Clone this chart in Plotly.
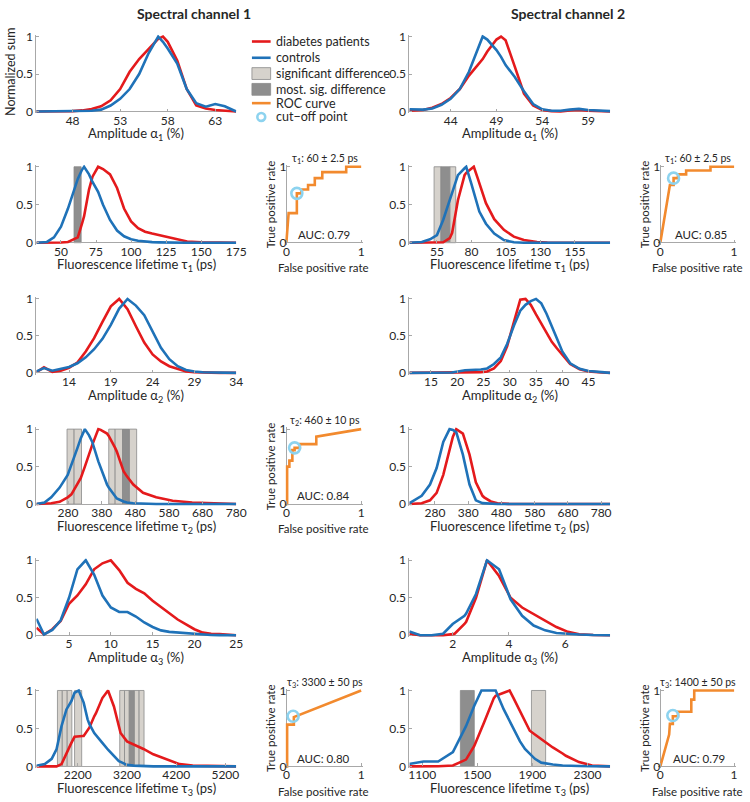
import plotly.graph_objects as go

# ---------------- data ----------------
# Row 1: amplitude alpha1
a1_ch1_x = [44, 46, 48, 49, 50, 51, 52, 53, 54, 55, 56, 57, 57.5, 58, 59, 60, 61, 62, 63, 64, 65.2]
a1_ch1_diab = [0, 0, 0.005, 0.015, 0.035, 0.07, 0.15, 0.3, 0.53, 0.7, 0.84, 0.97, 1.0, 0.93, 0.68, 0.3, 0.08, 0.04, 0.02, 0.01, 0]
a1_ch1_ctrl = [0, 0, 0, 0.005, 0.01, 0.025, 0.08, 0.17, 0.3, 0.5, 0.78, 1.0, 0.93, 0.84, 0.64, 0.3, 0.11, 0.065, 0.1, 0.07, 0]

a1_ch2_x = [39.5, 41, 42, 43, 44, 45, 46, 47, 47.5, 48, 49, 49.5, 50, 51, 52, 53, 54, 55, 56, 57, 58, 59, 60, 61.4]
a1_ch2_ctrl = [0.03, 0.025, 0.04, 0.09, 0.17, 0.3, 0.53, 0.84, 1.0, 0.96, 0.82, 0.73, 0.62, 0.46, 0.27, 0.1, 0.03, 0.01, 0.01, 0.025, 0.035, 0.02, 0.01, 0.005]
a1_ch2_diab = [0.01, 0.02, 0.05, 0.1, 0.18, 0.3, 0.48, 0.62, 0.7, 0.8, 0.96, 1.0, 0.95, 0.6, 0.24, 0.08, 0.02, 0.005, 0.0, 0.015, 0.02, 0.01, 0.005, 0]

# Row 2: lifetime tau1
t1_ch1_x = [32.5, 40, 45, 50, 55, 60, 62, 65, 66.5, 70, 72.5, 76.5, 80, 85, 90, 95, 100, 105, 110, 115, 120, 130, 140, 150, 175]
t1_ch1_ctrl = [0, 0.01, 0.07, 0.21, 0.45, 0.74, 0.84, 0.96, 1.0, 0.9, 0.8, 0.67, 0.5, 0.3, 0.16, 0.085, 0.045, 0.025, 0.015, 0.008, 0.005, 0, 0, 0, 0]
t1_ch1_diab = [0, 0, 0, 0.003, 0.01, 0.05, 0.07, 0.25, 0.35, 0.7, 0.87, 1.0, 0.97, 0.9, 0.72, 0.45, 0.28, 0.19, 0.145, 0.12, 0.1, 0.05, 0.015, 0.005, 0]
t1_ch1_sig = []
t1_ch1_most = [[59.3, 64.4]]

t1_ch2_x = [35, 44, 50, 55, 59.5, 64.3, 66, 70.2, 75, 76.2, 80, 81.7, 84.5, 85.7, 90.5, 96.5, 103.5, 110.7, 118, 127.5, 135, 180.5]
t1_ch2_ctrl = [0, 0.01, 0.045, 0.1, 0.3, 0.56, 0.65, 0.89, 0.98, 1.0, 0.77, 0.66, 0.47, 0.41, 0.25, 0.12, 0.035, 0.005, 0, 0, 0, 0]
t1_ch2_diab = [0, 0, 0, 0, 0.005, 0.06, 0.13, 0.56, 0.89, 0.92, 0.97, 1.0, 0.85, 0.78, 0.52, 0.31, 0.17, 0.08, 0.035, 0.01, 0.003, 0]
t1_ch2_sig = [[52.9, 57.9], [64.3, 68.6]]
t1_ch2_most = [[57.9, 64.3]]

# Row 3: amplitude alpha2
a2_ch1_x = [10.1, 11, 12, 13, 14, 15, 16, 17, 18, 19, 20, 21, 22, 23, 24, 25, 26, 27, 28, 29, 30, 32, 34]
a2_ch1_ctrl = [0.02, 0.065, 0.03, 0.05, 0.08, 0.13, 0.21, 0.32, 0.46, 0.65, 0.87, 1.0, 0.91, 0.78, 0.56, 0.34, 0.185, 0.09, 0.04, 0.018, 0.008, 0.002, 0]
a2_ch1_diab = [0.01, 0.075, 0.015, 0.03, 0.07, 0.14, 0.29, 0.47, 0.69, 0.9, 1.0, 0.86, 0.63, 0.41, 0.25, 0.155, 0.09, 0.05, 0.02, 0.01, 0.004, 0, 0]

a2_ch2_x = [10.9, 15, 19, 21.5, 24.5, 25.7, 27, 28.3, 29.5, 30.8, 31.5, 32, 33, 34, 35, 36, 37, 38, 39, 40, 41.5, 43.3, 45, 47.5, 49.1]
a2_ch2_ctrl = [0, 0, 0.005, 0.035, 0.045, 0.06, 0.12, 0.21, 0.39, 0.64, 0.75, 0.84, 0.92, 0.97, 1.0, 0.94, 0.8, 0.62, 0.46, 0.29, 0.13, 0.055, 0.025, 0.01, 0]
a2_ch2_diab = [0, 0, 0, 0.002, 0.01, 0.02, 0.06, 0.16, 0.36, 0.69, 0.88, 0.99, 1.0, 0.92, 0.79, 0.67, 0.55, 0.42, 0.33, 0.24, 0.12, 0.05, 0.02, 0.005, 0]

# Row 4: lifetime tau2
t2_ch1_x = [186, 210, 230, 255, 279, 290, 308, 318, 330, 342, 352, 370, 377, 396, 401, 420, 425, 445, 455, 474, 503, 542, 591, 649, 718, 780]
t2_ch1_ctrl = [0, 0.02, 0.09, 0.22, 0.39, 0.52, 0.75, 0.88, 1.0, 0.92, 0.83, 0.57, 0.48, 0.26, 0.22, 0.1, 0.075, 0.035, 0.02, 0.01, 0.004, 0, 0, 0, 0, 0]
t2_ch1_diab = [0, 0.003, 0.01, 0.03, 0.09, 0.13, 0.27, 0.35, 0.5, 0.66, 0.79, 1.0, 0.99, 0.94, 0.91, 0.75, 0.7, 0.44, 0.37, 0.26, 0.15, 0.09, 0.045, 0.02, 0.005, 0]
t2_ch1_sig = [[277, 298], [298, 320], [401, 420], [420, 442], [462, 484]]
t2_ch1_most = [[442, 462]]

t2_ch2_x = [203, 206, 240, 265, 285, 305, 324, 334, 344, 364, 384, 403, 423, 428, 448, 468, 500, 807]
t2_ch2_ctrl = [0.015, 0.02, 0.11, 0.26, 0.48, 0.83, 1.0, 0.99, 0.96, 0.66, 0.26, 0.05, 0.012, 0.01, 0.003, 0, 0, 0]
t2_ch2_diab = [0, 0, 0.01, 0.05, 0.15, 0.39, 0.75, 0.9, 1.0, 0.94, 0.66, 0.29, 0.11, 0.09, 0.035, 0.01, 0.002, 0]

# Row 5: amplitude alpha3
a3_ch1_x = [1.1, 2, 3, 4, 5, 6, 7, 8, 9, 10, 11, 12, 13, 14, 15, 16, 17, 18, 19, 20, 21, 22, 23, 24, 25]
a3_ch1_ctrl = [0.22, 0.01, 0.07, 0.2, 0.5, 0.88, 1.0, 0.81, 0.53, 0.37, 0.31, 0.31, 0.25, 0.17, 0.11, 0.065, 0.045, 0.037, 0.025, 0.012, 0.005, 0.003, 0.002, 0.001, 0]
a3_ch1_diab = [0.1, 0.01, 0.08, 0.19, 0.42, 0.53, 0.68, 0.88, 0.96, 1.0, 0.87, 0.7, 0.62, 0.56, 0.46, 0.38, 0.3, 0.21, 0.145, 0.08, 0.035, 0.018, 0.015, 0.012, 0]

a3_ch2_x = [0.46, 0.84, 1.25, 1.66, 2.0, 2.07, 2.42, 2.48, 2.83, 3.22, 3.65, 4.06, 4.47, 4.88, 5.29, 5.69, 6.1, 6.5, 7.0, 7.6]
a3_ch2_ctrl = [0.05, 0.0, 0.0, 0.02, 0.15, 0.17, 0.26, 0.29, 0.55, 1.0, 0.88, 0.48, 0.26, 0.13, 0.065, 0.03, 0.018, 0.01, 0.003, 0]
a3_ch2_diab = [0.02, 0.0, 0.0, 0.0, 0.015, 0.02, 0.15, 0.18, 0.5, 1.0, 0.79, 0.5, 0.37, 0.285, 0.2, 0.11, 0.045, 0.013, 0.003, 0]

# Row 6: lifetime tau3
t3_ch1_x = [1360, 1530, 1670, 1770, 1870, 1970, 2070, 2135, 2220, 2300, 2320, 2400, 2435, 2535, 2570,
            2700, 2815, 2935, 3035, 3070, 3200, 3335, 3470, 3535, 3735, 4000, 4270, 4535, 5420]
t3_ch1_ctrl = [0.01, 0.03, 0.1, 0.23, 0.53, 0.75, 0.86, 0.97, 1.0, 0.88, 0.84, 0.62, 0.56, 0.44, 0.41,
               0.31, 0.22, 0.13, 0.07, 0.06, 0.02, 0.01, 0.005, 0.003, 0, 0, 0, 0, 0]
t3_ch1_diab = [0, 0, 0, 0, 0.03, 0.18, 0.31, 0.39, 0.4, 0.4, 0.4, 0.48, 0.51, 0.66, 0.7,
               0.9, 1.0, 0.79, 0.5, 0.44, 0.33, 0.29, 0.25, 0.23, 0.16, 0.1, 0.03, 0.01, 0]
t3_ch1_sig = [[1787, 1885], [1885, 1985], [1985, 2080], [2135, 2280],
              [3053, 3150], [3150, 3247], [3347, 3447], [3447, 3547]]
t3_ch1_most = [[3247, 3347]]

t3_ch2_x = [1007, 1015, 1110, 1216, 1323, 1418, 1478, 1530, 1549, 1620, 1633, 1692, 1734, 1763, 1810,
            1846, 1881, 1918, 1964, 2000, 2048, 2119, 2143, 2238, 2333, 2464]
t3_ch2_ctrl = [0.035, 0.035, 0.065, 0.065, 0.19, 0.53, 0.8, 1.0, 1.0, 1.0, 1.0, 0.75, 0.6, 0.49, 0.33,
               0.23, 0.16, 0.1, 0.05, 0.035, 0.025, 0.013, 0.01, 0.005, 0.002, 0]
t3_ch2_diab = [0, 0, 0, 0.003, 0.013, 0.09, 0.27, 0.48, 0.58, 0.9, 0.93, 0.97, 1.0, 0.9, 0.73,
               0.6, 0.47, 0.42, 0.36, 0.31, 0.25, 0.17, 0.14, 0.057, 0.013, 0]
t3_ch2_sig = [[1893, 1996]]
t3_ch2_most = [[1377, 1478]]

# ROC curves
roc_t1_ch1_fpr = [0, 0.03, 0.14, 0.14, 0.2, 0.2, 0.29, 0.29, 0.38, 0.38, 0.48, 0.48, 0.8, 0.8, 1]
roc_t1_ch1_tpr = [0, 0.39, 0.39, 0.65, 0.65, 0.7, 0.7, 0.76, 0.76, 0.85, 0.85, 0.93, 0.93, 1, 1]
roc_t1_ch1_cut = [0.14, 0.65]

roc_t1_ch2_fpr = [0, 0.13, 0.18, 0.18, 0.24, 0.24, 0.35, 0.35, 0.68, 0.68, 1]
roc_t1_ch2_tpr = [0, 0.76, 0.76, 0.85, 0.85, 0.9, 0.9, 0.95, 0.95, 1, 1]
roc_t1_ch2_cut = [0.18, 0.85]

roc_t2_ch1_fpr = [0, 0.01, 0.01, 0.04, 0.04, 0.08, 0.08, 0.11, 0.11, 0.18, 0.18, 0.4, 0.4, 1]
roc_t2_ch1_tpr = [0, 0, 0.5, 0.5, 0.58, 0.58, 0.72, 0.72, 0.75, 0.75, 0.8, 0.8, 0.9, 1]
roc_t2_ch1_cut = [0.11, 0.75]

roc_t3_ch1_fpr = [0, 0.01, 0.01, 0.1, 0.1, 1]
roc_t3_ch1_tpr = [0, 0, 0.55, 0.55, 0.65, 1]
roc_t3_ch1_cut = [0.09, 0.66]

roc_t3_ch2_fpr = [0, 0.12, 0.13, 0.17, 0.17, 0.24, 0.24, 0.42, 0.42, 0.46, 0.46, 1]
roc_t3_ch2_tpr = [0, 0.42, 0.56, 0.56, 0.66, 0.66, 0.72, 0.72, 0.88, 0.88, 1, 1]
roc_t3_ch2_cut = [0.17, 0.67]

auc_values = ["0.79", "0.85", "0.84", "0.80", "0.79"]
roc_titles = ["τ<sub>1</sub>: 60 ± 2.5 ps", "τ<sub>1</sub>: 60 ± 2.5 ps", "τ<sub>2</sub>: 460 ± 10 ps",
              "τ<sub>3</sub>: 3300 ± 50 ps", "τ<sub>3</sub>: 1400 ± 50 ps"]

x_titles = ["Amplitude α<sub>1</sub> (%)", "Fluorescence lifetime τ<sub>1</sub> (ps)",
            "Amplitude α<sub>2</sub> (%)", "Fluorescence lifetime τ<sub>2</sub> (ps)",
            "Amplitude α<sub>3</sub> (%)", "Fluorescence lifetime τ<sub>3</sub> (ps)"]
legend_labels = ["diabetes patients", "controls", "significant difference",
                 "most. sig. difference", "ROC curve", "cut\u2212off point"]

# ---------------- styling / layout ----------------
W, H = 750, 802
FONT = "Lato, 'Open Sans', sans-serif"
TXT = "#262626"
RED = "#e41a1c"
BLUE = "#1f72b8"
ORANGE = "#f28a2e"
CYAN = "#8dd3ef"
LIGHT = "#d6d2cc"
DARK = "#8e8e8e"
EDGE = "#8a8a8a"
AX = "#a8a8a8"
LW = 2.6
TICK = 12
PAD = 0.025

ROWS = [(31, 107), (163, 240), (297, 372), (429, 505), (562, 638), (694, 771)]
MAIN_X = [(35, 238), (414, 618)]
ROC_X = [(289, 365), (669, 744)]

fig = go.Figure()
lay = {}
shapes = []
annots = []


def pxx(px):
    return px / W


def pxy(py):
    return 1 - py / H


counter = [0]


def new_axes():
    counter[0] += 1
    i = counter[0]
    s = "" if i == 1 else str(i)
    return "x" + s, "y" + s, "xaxis" + s, "yaxis" + s


def text(x, y, t, size=12, xanchor="center", yanchor="middle", angle=0, bold=False, xref="paper", yref="paper"):
    if bold:
        t = "<b>" + t + "</b>"
    annots.append(dict(x=x, y=y, xref=xref, yref=yref, text=t, showarrow=False,
                       xanchor=xanchor, yanchor=yanchor, textangle=angle,
                       font=dict(size=size, family=FONT, color=TXT)))


def main_panel(row, col, x, ctrl, diab, xrange, xticks, sig=(), most=()):
    xr, yr, xa, ya = new_axes()
    top, bot = ROWS[row]
    h = bot - top
    x0, x1 = MAIN_X[col]
    lay[xa] = dict(domain=[pxx(x0), pxx(x1)], range=xrange, anchor="free", position=pxy(bot),
                   tickvals=xticks, ticks="inside", ticklen=3, tickcolor=AX, showline=False,
                   zeroline=False, showgrid=False, tickfont=dict(size=TICK, color=TXT), fixedrange=True)
    lay[ya] = dict(domain=[pxy(bot + PAD * h), pxy(top - PAD * h)], range=[-PAD, 1 + PAD], anchor=xr,
                   tickvals=[0, 0.5, 1], ticktext=["0", "0.5", "1"], ticks="inside", ticklen=3,
                   tickcolor=AX, showline=True, linecolor=AX, linewidth=1, zeroline=True,
                   zerolinecolor=AX, zerolinewidth=1, showgrid=False,
                   tickfont=dict(size=TICK, color=TXT), fixedrange=True)
    for a, b in sig:
        shapes.append(dict(type="rect", xref=xr, yref=yr, x0=a, x1=b, y0=0, y1=1,
                           fillcolor=LIGHT, line=dict(color=EDGE, width=0.8), layer="below"))
    for a, b in most:
        shapes.append(dict(type="rect", xref=xr, yref=yr, x0=a, x1=b, y0=0, y1=1,
                           fillcolor=DARK, line=dict(color=EDGE, width=0.8), layer="below"))
    fig.add_trace(go.Scatter(x=x, y=diab, xaxis=xr, yaxis=yr, mode="lines",
                             line=dict(color=RED, width=LW), hoverinfo="skip"))
    fig.add_trace(go.Scatter(x=x, y=ctrl, xaxis=xr, yaxis=yr, mode="lines",
                             line=dict(color=BLUE, width=LW), hoverinfo="skip"))
    text(pxx((x0 + x1) / 2), pxy(bot + 23), x_titles[row], size=13)


def roc_panel(row, col, fpr, tpr, cut, k, auc_x=0.5):
    xr, yr, xa, ya = new_axes()
    top, bot = ROWS[row]
    h = bot - top
    x0, x1 = ROC_X[col]
    w = x1 - x0
    common = dict(range=[-PAD, 1 + PAD], tickvals=[0, 1], ticks="inside", ticklen=3, tickcolor=AX,
                  showline=False, zeroline=True, zerolinecolor=AX, zerolinewidth=1, showgrid=False,
                  tickfont=dict(size=TICK, color=TXT), fixedrange=True, anchor="free")
    lay[xa] = dict(domain=[pxx(x0 - PAD * w), pxx(x1 + PAD * w)], position=pxy(bot), **common)
    lay[ya] = dict(domain=[pxy(bot + PAD * h), pxy(top - PAD * h)], position=pxx(x0), **common)
    fig.add_trace(go.Scatter(x=fpr, y=tpr, xaxis=xr, yaxis=yr, mode="lines",
                             line=dict(color=ORANGE, width=LW), hoverinfo="skip"))
    fig.add_trace(go.Scatter(x=[cut[0]], y=[cut[1]], xaxis=xr, yaxis=yr, mode="markers",
                             marker=dict(symbol="circle-open", size=11, color=CYAN,
                                         line=dict(width=2.6, color=CYAN)), hoverinfo="skip"))
    text(auc_x, 0.11, "AUC: " + auc_values[k], size=11.5, xref=xr, yref=yr)
    text(pxx((x0 + x1) / 2 + 1), pxy(top - 8), roc_titles[k], size=10.5)
    text(pxx((x0 + x1) / 2), pxy(bot + 25), "False positive rate", size=11.5)
    text(pxx(x0 - 16), pxy((top + bot) / 2), "True positive rate", size=11.5, angle=-90)


main_panel(0, 0, a1_ch1_x, a1_ch1_ctrl, a1_ch1_diab, [44.2, 65.2], [48, 53, 58, 63])
main_panel(0, 1, a1_ch2_x, a1_ch2_ctrl, a1_ch2_diab, [39.5, 61.4], [44, 49, 54, 59])
main_panel(1, 0, t1_ch1_x, t1_ch1_ctrl, t1_ch1_diab, [32.5, 175], [50, 75, 100, 125, 150, 175],
           t1_ch1_sig, t1_ch1_most)
main_panel(1, 1, t1_ch2_x, t1_ch2_ctrl, t1_ch2_diab, [35, 180.5], [55, 80, 105, 130, 155],
           t1_ch2_sig, t1_ch2_most)
main_panel(2, 0, a2_ch1_x, a2_ch1_ctrl, a2_ch1_diab, [10.1, 34], [14, 19, 24, 29, 34])
main_panel(2, 1, a2_ch2_x, a2_ch2_ctrl, a2_ch2_diab, [10.9, 49.1], [15, 20, 25, 30, 35, 40, 45])
main_panel(3, 0, t2_ch1_x, t2_ch1_ctrl, t2_ch1_diab, [186, 780], [280, 380, 480, 580, 680, 780],
           t2_ch1_sig, t2_ch1_most)
main_panel(3, 1, t2_ch2_x, t2_ch2_ctrl, t2_ch2_diab, [203, 807], [280, 380, 480, 580, 680, 780])
main_panel(4, 0, a3_ch1_x, a3_ch1_ctrl, a3_ch1_diab, [1.1, 25], [5, 10, 15, 20, 25])
main_panel(4, 1, a3_ch2_x, a3_ch2_ctrl, a3_ch2_diab, [0.46, 7.6], [2, 4, 6])
main_panel(5, 0, t3_ch1_x, t3_ch1_ctrl, t3_ch1_diab, [1360, 5420], [2200, 3200, 4200, 5200],
           t3_ch1_sig, t3_ch1_most)
main_panel(5, 1, t3_ch2_x, t3_ch2_ctrl, t3_ch2_diab, [1007, 2464], [1100, 1500, 1900, 2300],
           t3_ch2_sig, t3_ch2_most)

roc_panel(1, 0, roc_t1_ch1_fpr, roc_t1_ch1_tpr, roc_t1_ch1_cut, 0)
roc_panel(1, 1, roc_t1_ch2_fpr, roc_t1_ch2_tpr, roc_t1_ch2_cut, 1, auc_x=0.55)
roc_panel(3, 0, roc_t2_ch1_fpr, roc_t2_ch1_tpr, roc_t2_ch1_cut, 2)
roc_panel(5, 0, roc_t3_ch1_fpr, roc_t3_ch1_tpr, roc_t3_ch1_cut, 3)
roc_panel(5, 1, roc_t3_ch2_fpr, roc_t3_ch2_tpr, roc_t3_ch2_cut, 4, auc_x=0.52)

# column titles and y label
text(pxx(195), pxy(8), "Spectral channel 1", size=14, bold=True)
text(pxx(575), pxy(8), "Spectral channel 2", size=14, bold=True)
text(pxx(8), pxy(67), "Normalized sum", size=12.5, angle=-90)

# manual legend
LX0, LX1, LTX = 254, 273, 276
leg_y = [36, 52.5, 68.5, 84.5, 98.5, 112.5]
shapes.append(dict(type="line", xref="paper", yref="paper", x0=pxx(LX0), x1=pxx(LX1),
                   y0=pxy(leg_y[0]), y1=pxy(leg_y[0]), line=dict(color=RED, width=LW)))
shapes.append(dict(type="line", xref="paper", yref="paper", x0=pxx(LX0), x1=pxx(LX1),
                   y0=pxy(leg_y[1]), y1=pxy(leg_y[1]), line=dict(color=BLUE, width=LW)))
shapes.append(dict(type="rect", xref="paper", yref="paper", x0=pxx(LX0), x1=pxx(LX1),
                   y0=pxy(leg_y[2] + 6), y1=pxy(leg_y[2] - 6), fillcolor=LIGHT,
                   line=dict(color=EDGE, width=0.8)))
shapes.append(dict(type="rect", xref="paper", yref="paper", x0=pxx(LX0), x1=pxx(LX1),
                   y0=pxy(leg_y[3] + 6), y1=pxy(leg_y[3] - 6), fillcolor=DARK,
                   line=dict(color=EDGE, width=0.8)))
shapes.append(dict(type="line", xref="paper", yref="paper", x0=pxx(LX0), x1=pxx(LX1),
                   y0=pxy(leg_y[4]), y1=pxy(leg_y[4]), line=dict(color=ORANGE, width=LW)))
shapes.append(dict(type="circle", xref="paper", yref="paper", x0=pxx(259.5), x1=pxx(267.5),
                   y0=pxy(leg_y[5] + 4), y1=pxy(leg_y[5] - 4), line=dict(color=CYAN, width=2.6)))
for lbl, yy in zip(legend_labels, leg_y):
    text(pxx(LTX), pxy(yy), lbl, size=12.5, xanchor="left")

lay.update(width=W, height=H, margin=dict(l=0, r=0, t=0, b=0), paper_bgcolor="white",
           plot_bgcolor="rgba(0,0,0,0)", showlegend=False, shapes=shapes, annotations=annots,
           font=dict(family=FONT, size=12, color=TXT))
fig.update_layout(**lay)
# the page's default 8px body margin would shift the 750x802 figure; remove it
fig.write_html("out.html", config={"displayModeBar": False},
               post_script="document.body.style.margin='0px';")
